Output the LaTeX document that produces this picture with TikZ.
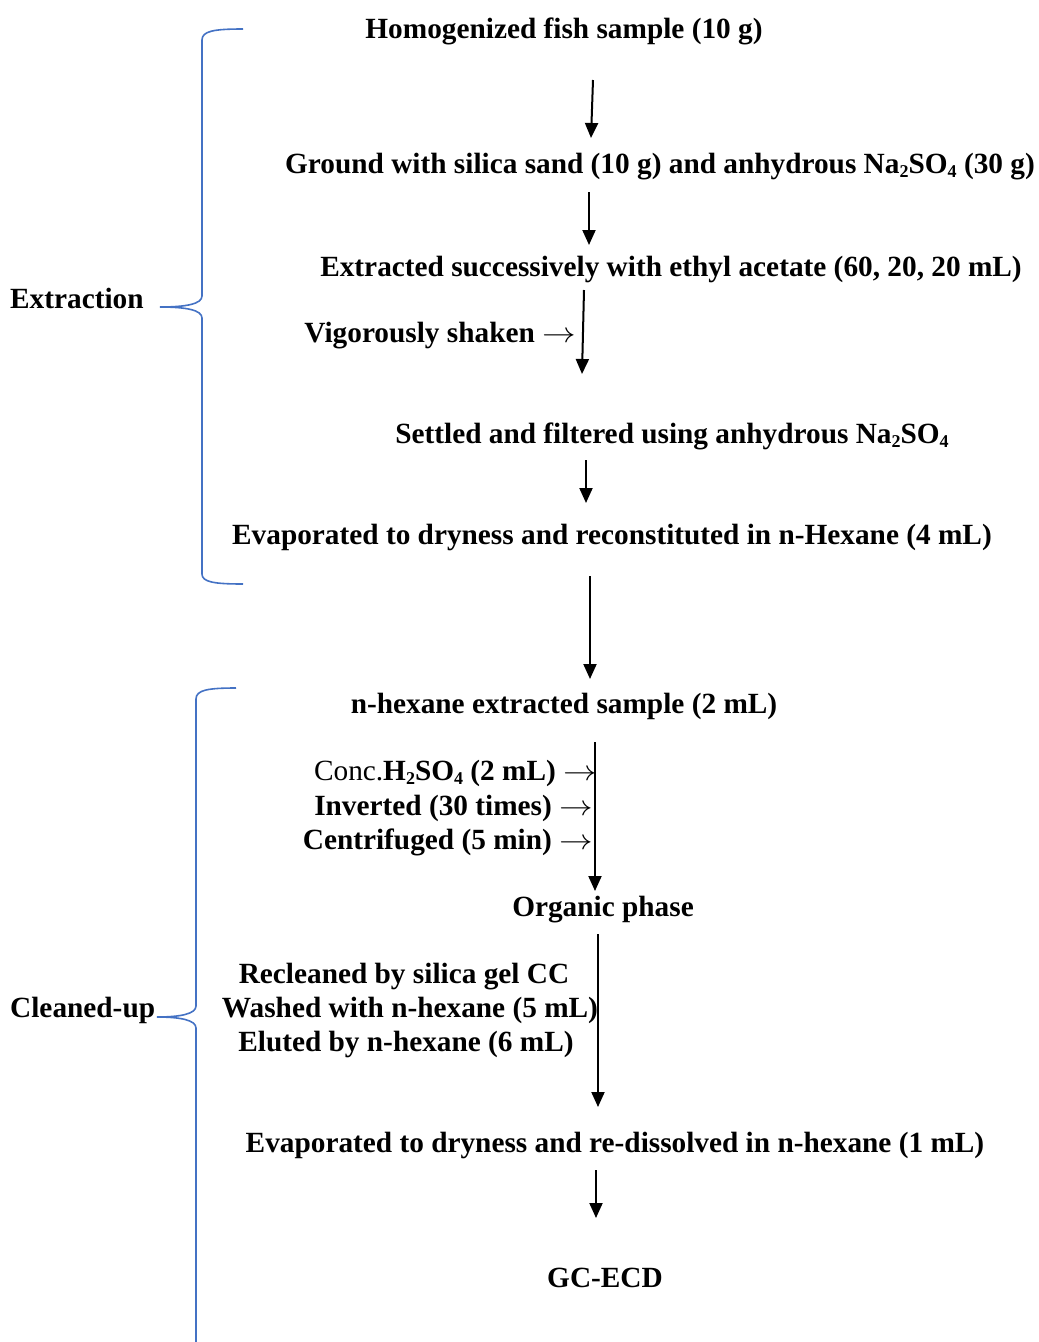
\documentclass[tikz,border=0pt]{standalone}
\usepackage{fontspec}
\usepackage{graphicx}
\setmainfont{Liberation Serif}
\usetikzlibrary{arrows.meta}
\definecolor{braceblue}{HTML}{4472C4}
\newcommand{\sbs}[1]{\raisebox{-0.15em}{\fontsize{18}{18}\selectfont #1}}
\newcommand{\rarr}{\scalebox{1.35}[1.15]{\ensuremath{\rightarrow}}}
\begin{document}
\begin{tikzpicture}[x=1pt,y=-1pt,
  lbl/.style={font=\fontsize{29.3}{34}\selectfont\bfseries, inner sep=0pt, anchor=base},
  side/.style={font=\fontsize{29.3}{34}\selectfont\bfseries, inner sep=0pt, anchor=base east},
  arr/.style={line width=2pt, -{Triangle[length=15pt,width=13pt]}},
  brc/.style={draw=braceblue, line width=1.6pt}]
\useasboundingbox (0,0) rectangle (1039,1342);

% extraction steps
\node[lbl] (n1) at (564,38) {Homogenized fish sample (10 g)};
\node[lbl] (n2) at (660,173) {Ground with silica sand (10 g) and anhydrous Na\sbs{2}SO\sbs{4} (30 g)};
\node[lbl] (n3) at (671,276) {Extracted successively with ethyl acetate (60, 20, 20 mL)};
\node[side] (v1) at (576,342) {Vigorously shaken \rarr};
\node[lbl] (n4) at (672,443) {Settled and filtered using anhydrous Na\sbs{2}SO\sbs{4}};
\node[lbl] (n5) at (612,544) {Evaporated to dryness and reconstituted in n-Hexane (4 mL)};

% clean-up steps
\node[lbl] (n6) at (564,713) {n-hexane extracted sample (2 mL)};
\node[side] (c1) at (597,780) {\textmd{Conc.}H\sbs{2}SO\sbs{4} (2 mL) \rarr};
\node[side] (c2) at (593,815) {Inverted (30 times) \rarr};
\node[side] (c3) at (593,849) {Centrifuged (5 min) \rarr};
\node[lbl] (n7) at (603,916) {Organic phase};
\node[lbl] (w1) at (404,983) {Recleaned by silica gel CC};
\node[lbl] (w2) at (410,1017) {Washed with n-hexane (5 mL)};
\node[lbl] (w3) at (406,1051) {Eluted by n-hexane (6 mL)};
\node[lbl] (n8) at (615,1152) {Evaporated to dryness and re-dissolved in n-hexane (1 mL)};
\node[lbl] (n9) at (605,1287) {GC-ECD};

% group labels
\node[lbl, anchor=base west] (ext) at (10,308) {Extraction};
\node[lbl, anchor=base west] (cln) at (10,1017) {Cleaned-up};

% arrow end points
\coordinate (a1s) at (593,80);  \coordinate (a1e) at (591,138);
\coordinate (a2s) at (589,192); \coordinate (a2e) at (589,245);
\coordinate (a3s) at (584,290); \coordinate (a3e) at (582,374);
\coordinate (a4s) at (586,460); \coordinate (a4e) at (586,503);
\coordinate (a5s) at (590,576); \coordinate (a5e) at (590,679);
\coordinate (a6s) at (595,742); \coordinate (a6e) at (595,891);
\coordinate (a7s) at (598,934); \coordinate (a7e) at (598,1107);
\coordinate (a8s) at (596,1170); \coordinate (a8e) at (596,1218);

\draw[arr] (a1s) -- (a1e);
\draw[arr] (a2s) -- (a2e);
\draw[arr] (a3s) -- (a3e);
\draw[arr] (a4s) -- (a4e);
\draw[arr] (a5s) -- (a5e);
\draw[arr] (a6s) -- (a6e);
\draw[arr] (a7s) -- (a7e);
\draw[arr] (a8s) -- (a8e);

% braces
\draw[brc] (243,29) .. controls (214,29) and (202,31) .. (202,40)
  -- (202,296) .. controls (202,304) and (186,307) .. (160,307)
  .. controls (186,307) and (202,310) .. (202,318)
  -- (202,574) .. controls (202,582) and (214,584) .. (243,584);
\draw[brc] (236,688) .. controls (208,688) and (196,690) .. (196,699)
  -- (196,1006) .. controls (196,1014) and (180,1017) .. (157,1017)
  .. controls (180,1017) and (196,1020) .. (196,1028)
  -- (196,1342);
\end{tikzpicture}
\end{document}
